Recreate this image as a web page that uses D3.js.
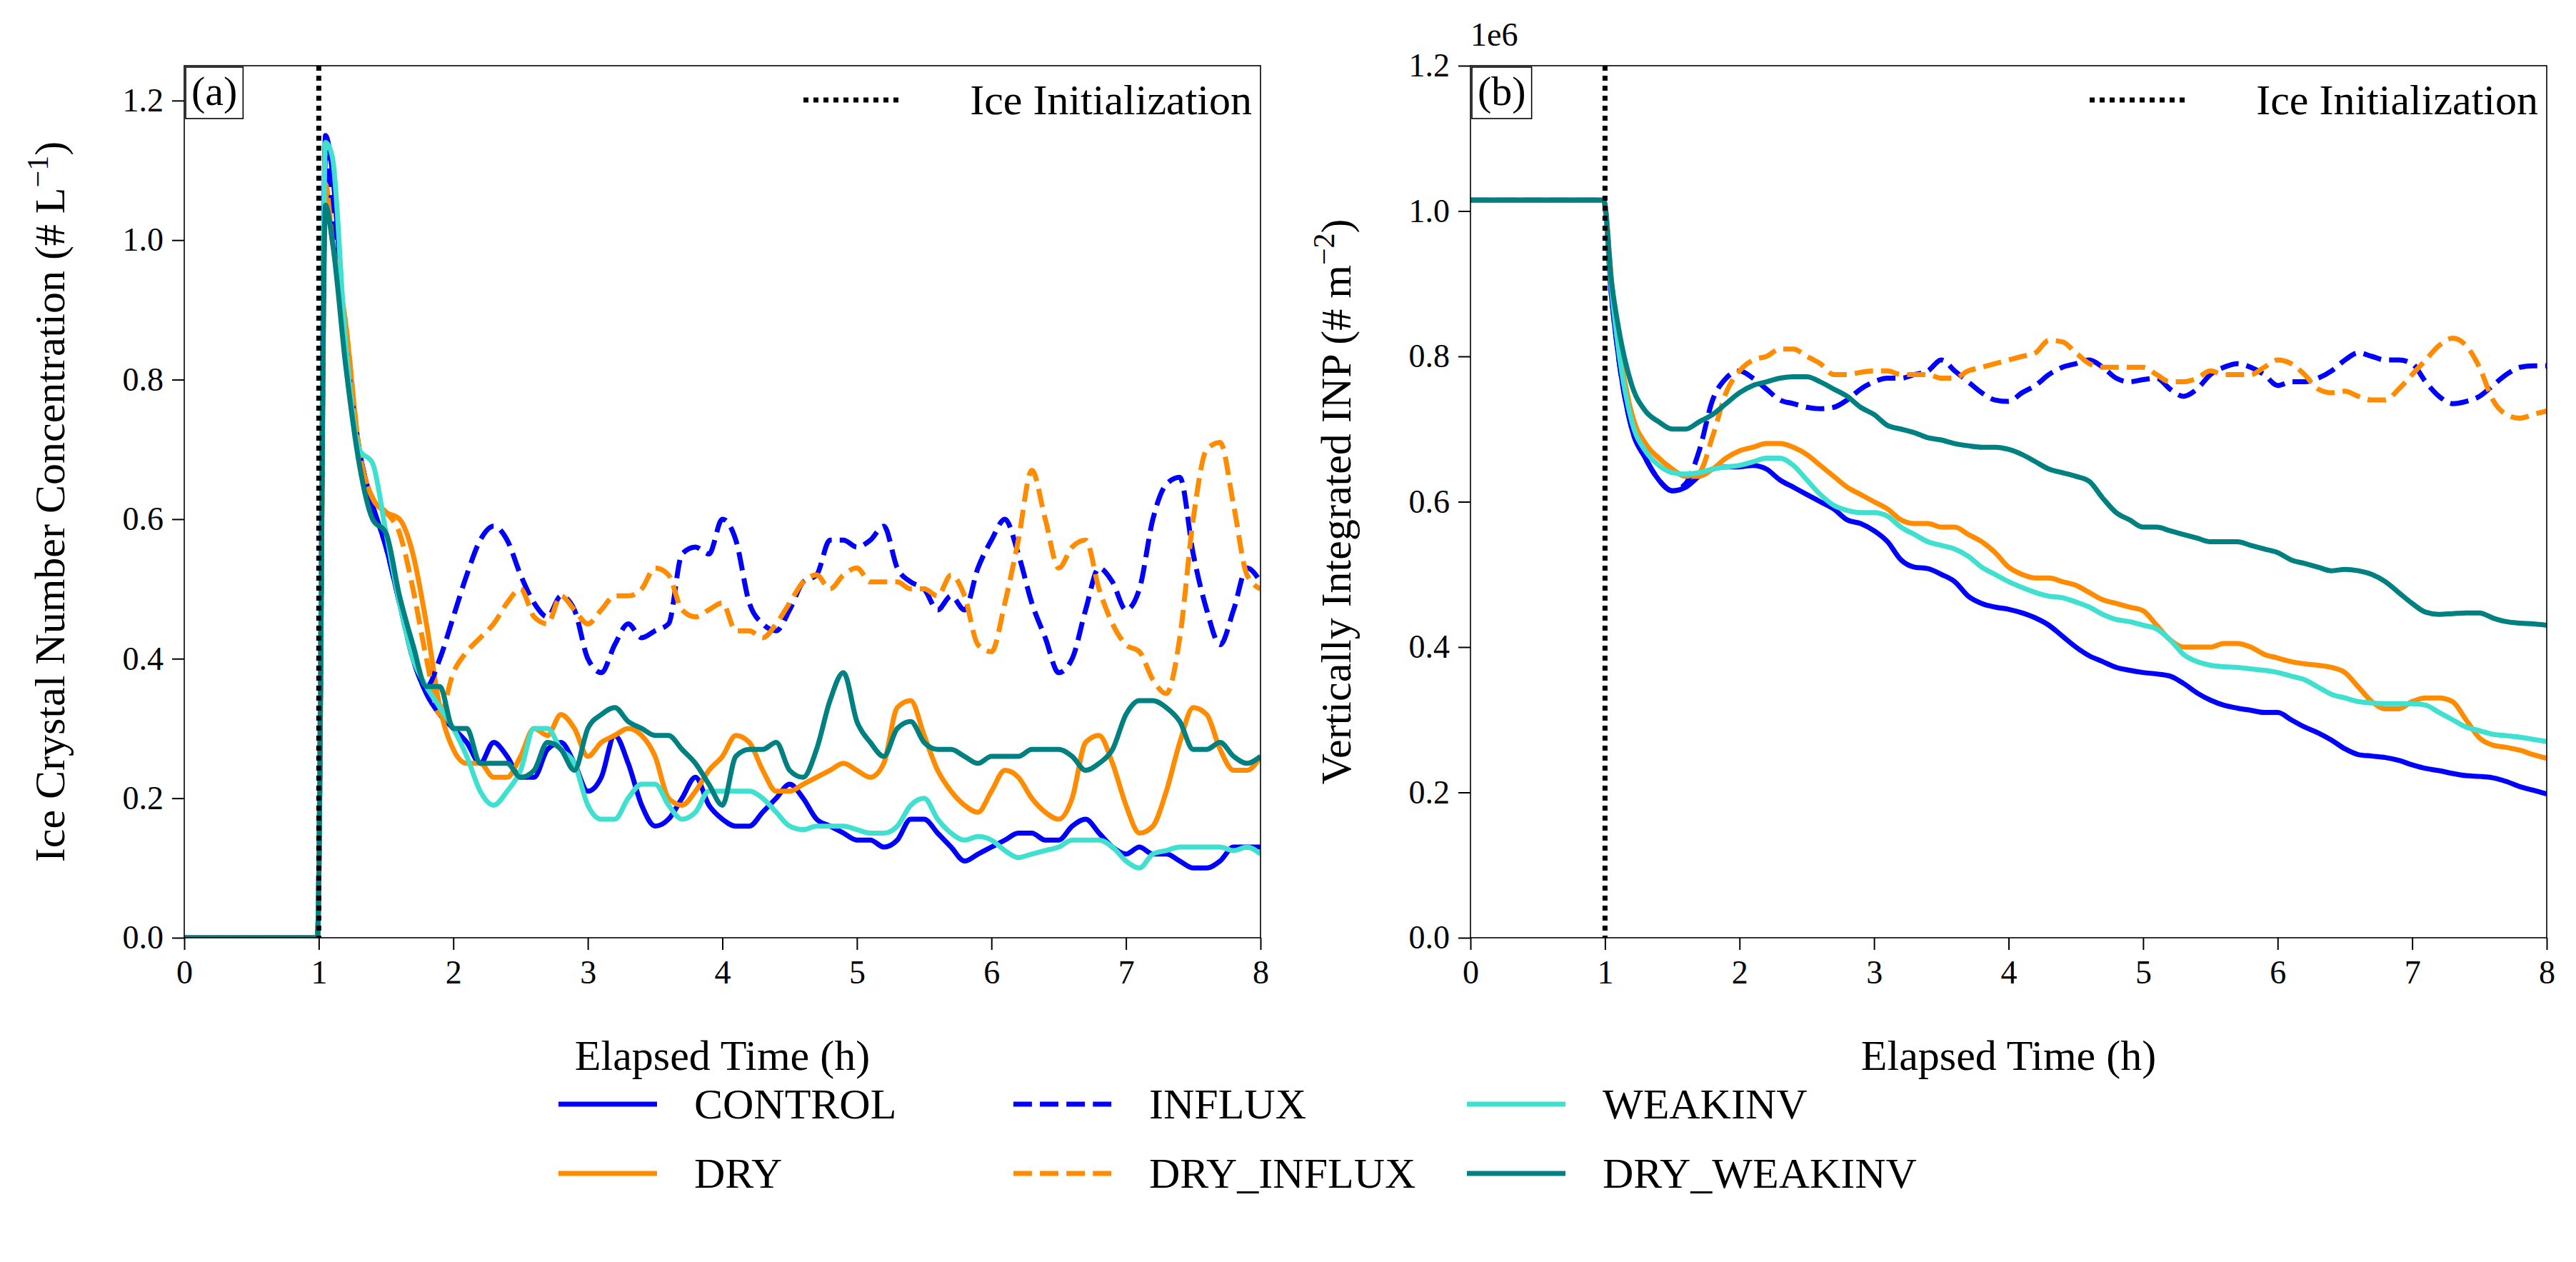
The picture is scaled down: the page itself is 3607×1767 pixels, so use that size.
<!DOCTYPE html>
<html>
<head>
<meta charset="utf-8">
<script src="https://cdn.jsdelivr.net/npm/d3@7"></script>
<style>
  body { margin: 0; background: #fff; }
  text { font-family: "Liberation Serif", "DejaVu Serif", serif; fill: #000; }
</style>
</head>
<body>
<div id="chart"></div>
<script>
// time axis (h): flat part, jump, then every 0.1 h
var times = [0, 0.99, 1.05].concat(d3.range(11, 81).map(function(k) { return k / 10; }));

var seriesNames = ["CONTROL", "DRY", "INFLUX", "DRY_INFLUX", "WEAKINV", "DRY_WEAKINV"];
var seriesColors = ["#0000ff", "#ff8c00", "#0000ff", "#ff8c00", "#40e0d0", "#008080"];
var seriesDashed = [false, false, true, true, false, false];

// panel (a) ice crystal number concentration (# L-1)
var iceControl = [0, 0, 1.15, 1.10, 0.85, 0.70, 0.62, 0.56, 0.48, 0.40, 0.35, 0.32,
  0.30, 0.28, 0.25, 0.28, 0.26, 0.23, 0.23, 0.27, 0.28, 0.25,
  0.21, 0.23, 0.29, 0.25, 0.19, 0.16, 0.17, 0.20, 0.23, 0.19,
  0.17, 0.16, 0.16, 0.18, 0.20, 0.22, 0.20, 0.17, 0.16, 0.15,
  0.14, 0.14, 0.13, 0.14, 0.17, 0.17, 0.15, 0.13, 0.11, 0.12,
  0.13, 0.14, 0.15, 0.15, 0.14, 0.14, 0.16, 0.17, 0.15, 0.13,
  0.12, 0.13, 0.12, 0.12, 0.11, 0.10, 0.10, 0.11, 0.13, 0.13, 0.13];
var iceDry = [0, 0, 1.08, 1.00, 0.88, 0.70, 0.63, 0.61, 0.60, 0.55, 0.45, 0.33,
  0.27, 0.25, 0.25, 0.23, 0.23, 0.26, 0.30, 0.29, 0.32, 0.30,
  0.26, 0.28, 0.29, 0.30, 0.29, 0.26, 0.20, 0.19, 0.21, 0.24,
  0.26, 0.29, 0.28, 0.24, 0.21, 0.21, 0.22, 0.23, 0.24, 0.25,
  0.24, 0.23, 0.25, 0.33, 0.34, 0.29, 0.24, 0.21, 0.19, 0.18,
  0.21, 0.24, 0.23, 0.20, 0.18, 0.17, 0.20, 0.28, 0.29, 0.25,
  0.19, 0.15, 0.16, 0.21, 0.28, 0.33, 0.32, 0.27, 0.24, 0.24, 0.26];
var iceInflux = [0, 0, 1.12, 1.05, 0.85, 0.70, 0.62, 0.56, 0.48, 0.40, 0.36, 0.40,
  0.46, 0.52, 0.57, 0.59, 0.57, 0.52, 0.48, 0.46, 0.49, 0.47,
  0.40, 0.38, 0.42, 0.45, 0.43, 0.44, 0.45, 0.55, 0.56, 0.55,
  0.60, 0.57, 0.48, 0.45, 0.44, 0.47, 0.51, 0.52, 0.57, 0.57,
  0.56, 0.57, 0.59, 0.53, 0.51, 0.50, 0.47, 0.49, 0.47, 0.53,
  0.57, 0.60, 0.55, 0.48, 0.43, 0.38, 0.40, 0.47, 0.53, 0.51,
  0.47, 0.50, 0.60, 0.65, 0.66, 0.55, 0.47, 0.42, 0.47, 0.53, 0.51];
var iceDryInflux = [0, 0, 1.08, 1.00, 0.88, 0.70, 0.63, 0.61, 0.58, 0.50, 0.40, 0.32,
  0.38, 0.41, 0.43, 0.45, 0.48, 0.50, 0.46, 0.45, 0.49, 0.47,
  0.45, 0.47, 0.49, 0.49, 0.50, 0.53, 0.52, 0.47, 0.46, 0.47,
  0.48, 0.44, 0.44, 0.43, 0.45, 0.48, 0.51, 0.52, 0.50, 0.52,
  0.53, 0.51, 0.51, 0.51, 0.50, 0.50, 0.49, 0.52, 0.49, 0.42,
  0.41, 0.48, 0.57, 0.67, 0.60, 0.53, 0.56, 0.57, 0.50, 0.45,
  0.42, 0.41, 0.37, 0.35, 0.43, 0.60, 0.70, 0.71, 0.62, 0.52, 0.50];
var iceWeakinv = [0, 0, 1.14, 1.12, 0.85, 0.70, 0.68, 0.58, 0.48, 0.40, 0.36, 0.33,
  0.30, 0.26, 0.21, 0.19, 0.21, 0.24, 0.30, 0.30, 0.27, 0.25,
  0.19, 0.17, 0.17, 0.20, 0.22, 0.22, 0.19, 0.17, 0.18, 0.21,
  0.21, 0.21, 0.21, 0.20, 0.18, 0.16, 0.155, 0.16, 0.16, 0.16,
  0.155, 0.15, 0.15, 0.16, 0.19, 0.20, 0.17, 0.15, 0.14, 0.145,
  0.14, 0.125, 0.115, 0.12, 0.125, 0.13, 0.14, 0.14, 0.14, 0.13,
  0.11, 0.10, 0.12, 0.125, 0.13, 0.13, 0.13, 0.13, 0.125, 0.13, 0.12];
var iceDryWeakinv = [0, 0, 1.05, 1.00, 0.82, 0.68, 0.60, 0.58, 0.49, 0.42, 0.36, 0.36,
  0.30, 0.30, 0.25, 0.25, 0.25, 0.23, 0.24, 0.28, 0.27, 0.24,
  0.30, 0.32, 0.33, 0.31, 0.30, 0.29, 0.29, 0.27, 0.25, 0.22,
  0.19, 0.26, 0.27, 0.27, 0.28, 0.24, 0.23, 0.27, 0.34, 0.38,
  0.31, 0.28, 0.26, 0.30, 0.31, 0.28, 0.27, 0.27, 0.26, 0.25,
  0.26, 0.26, 0.26, 0.27, 0.27, 0.27, 0.26, 0.24, 0.25, 0.27,
  0.32, 0.34, 0.34, 0.33, 0.31, 0.27, 0.27, 0.28, 0.26, 0.25, 0.26];

// panel (b) vertically integrated INP (1e6 # m-2)
var inpControl = [1.015, 1.015, 0.88, 0.80, 0.70, 0.66, 0.63, 0.615, 0.62, 0.635, 0.645, 0.648,
  0.648, 0.65, 0.645, 0.63, 0.62, 0.61, 0.60, 0.59, 0.575, 0.57,
  0.56, 0.545, 0.52, 0.51, 0.508, 0.50, 0.49, 0.47, 0.46, 0.455,
  0.452, 0.447, 0.44, 0.43, 0.415, 0.40, 0.388, 0.38, 0.372, 0.368,
  0.365, 0.363, 0.36, 0.35, 0.337, 0.327, 0.32, 0.316, 0.313, 0.31,
  0.31, 0.30, 0.29, 0.282, 0.272, 0.26, 0.252, 0.25, 0.248, 0.244,
  0.238, 0.233, 0.23, 0.226, 0.223, 0.222, 0.22, 0.215, 0.208, 0.203, 0.198];
var inpDry = [1.015, 1.015, 0.90, 0.82, 0.72, 0.68, 0.66, 0.645, 0.635, 0.635, 0.645, 0.66,
  0.67, 0.675, 0.68, 0.68, 0.675, 0.665, 0.65, 0.635, 0.62, 0.61,
  0.60, 0.59, 0.575, 0.57, 0.57, 0.565, 0.565, 0.555, 0.545, 0.53,
  0.51, 0.50, 0.495, 0.495, 0.49, 0.485, 0.475, 0.465, 0.46, 0.455,
  0.45, 0.43, 0.41, 0.40, 0.40, 0.40, 0.405, 0.405, 0.40, 0.39,
  0.385, 0.38, 0.377, 0.375, 0.372, 0.365, 0.345, 0.325, 0.315, 0.315,
  0.325, 0.33, 0.33, 0.325, 0.30, 0.275, 0.265, 0.262, 0.258, 0.252, 0.247];
var inpInflux = [1.015, 1.015, 0.88, 0.80, 0.70, 0.66, 0.63, 0.615, 0.625, 0.67, 0.74, 0.77,
  0.78, 0.77, 0.755, 0.74, 0.735, 0.73, 0.728, 0.73, 0.74, 0.755,
  0.765, 0.77, 0.77, 0.775, 0.78, 0.795, 0.78, 0.765, 0.75, 0.74,
  0.738, 0.75, 0.76, 0.775, 0.785, 0.79, 0.795, 0.785, 0.77, 0.765,
  0.768, 0.77, 0.755, 0.745, 0.755, 0.775, 0.785, 0.79, 0.785, 0.775,
  0.76, 0.765, 0.765, 0.77, 0.78, 0.795, 0.805, 0.80, 0.795, 0.795,
  0.79, 0.765, 0.745, 0.735, 0.738, 0.745, 0.76, 0.775, 0.785, 0.787, 0.787];
var inpDryInflux = [1.015, 1.015, 0.90, 0.82, 0.72, 0.68, 0.66, 0.645, 0.635, 0.64, 0.69, 0.75,
  0.78, 0.795, 0.80, 0.81, 0.81, 0.80, 0.79, 0.775, 0.775, 0.778,
  0.78, 0.78, 0.775, 0.775, 0.775, 0.77, 0.77, 0.78, 0.785, 0.79,
  0.795, 0.80, 0.805, 0.822, 0.82, 0.805, 0.79, 0.785, 0.785, 0.785,
  0.785, 0.775, 0.765, 0.765, 0.77, 0.78, 0.775, 0.775, 0.775, 0.785,
  0.795, 0.79, 0.775, 0.755, 0.75, 0.752, 0.745, 0.74, 0.74, 0.755,
  0.775, 0.795, 0.815, 0.825, 0.815, 0.785, 0.74, 0.72, 0.715, 0.72, 0.725];
var inpWeakinv = [1.015, 1.015, 0.89, 0.81, 0.71, 0.67, 0.65, 0.64, 0.638, 0.64, 0.645, 0.648,
  0.65, 0.655, 0.66, 0.66, 0.65, 0.63, 0.61, 0.595, 0.588, 0.585,
  0.585, 0.58, 0.565, 0.555, 0.545, 0.54, 0.535, 0.525, 0.51, 0.50,
  0.49, 0.482, 0.475, 0.47, 0.468, 0.462, 0.455, 0.445, 0.438, 0.435,
  0.43, 0.425, 0.41, 0.39, 0.38, 0.375, 0.373, 0.372, 0.37, 0.368,
  0.365, 0.36, 0.355, 0.345, 0.335, 0.33, 0.325, 0.323, 0.322, 0.322,
  0.322, 0.32, 0.31, 0.30, 0.29, 0.285, 0.28, 0.278, 0.276, 0.273, 0.27];
var inpDryWeakinv = [1.015, 1.015, 0.90, 0.84, 0.76, 0.725, 0.71, 0.70, 0.70, 0.71, 0.72, 0.735,
  0.75, 0.76, 0.765, 0.77, 0.772, 0.772, 0.765, 0.755, 0.745, 0.73,
  0.72, 0.705, 0.70, 0.695, 0.688, 0.685, 0.68, 0.677, 0.675, 0.675,
  0.672, 0.665, 0.655, 0.645, 0.64, 0.635, 0.628, 0.605, 0.585, 0.575,
  0.565, 0.565, 0.56, 0.555, 0.55, 0.545, 0.545, 0.545, 0.54, 0.535,
  0.53, 0.52, 0.515, 0.51, 0.505, 0.507, 0.505, 0.50, 0.49, 0.475,
  0.46, 0.448, 0.445, 0.446, 0.447, 0.447, 0.44, 0.435, 0.433, 0.432, 0.43];

var iceSeries = [iceControl, iceDry, iceInflux, iceDryInflux, iceWeakinv, iceDryWeakinv];
var inpSeries = [inpControl, inpDry, inpInflux, inpDryInflux, inpWeakinv, inpDryWeakinv];

var xTicks = [0, 1, 2, 3, 4, 5, 6, 7, 8];
var iceInitTime = 1;

var W = 3607, H = 1767;
var serif = "'Liberation Serif', 'DejaVu Serif', serif";
var svg = d3.select("#chart").append("svg").attr("width", W).attr("height", H)
  .attr("font-family", serif);

var lw = 7;
var dotted = "7,7";

function panel(left, right, yMax, series, label, yLabel, sup, showExp) {
  var top = 92, bottom = 1313;
  var x = d3.scaleLinear().domain([0, 8]).range([left, right]);
  var y = d3.scaleLinear().domain([0, yMax]).range([bottom, top]);
  var g = svg.append("g");

  var line = d3.line()
    .x(function(d) { return x(d[0]); })
    .y(function(d) { return y(d[1]); })
    .curve(d3.curveMonotoneX);

  var clipId = "clip" + label;
  svg.append("clipPath").attr("id", clipId).append("rect")
    .attr("x", left).attr("y", top).attr("width", right - left).attr("height", bottom - top);

  var lines = g.append("g").attr("clip-path", "url(#" + clipId + ")");
  series.forEach(function(vals, i) {
    lines.append("path")
      .datum(times.map(function(t, k) { return [t, vals[k]]; }))
      .attr("d", line)
      .attr("fill", "none")
      .attr("stroke", seriesColors[i])
      .attr("stroke-width", lw)
      .attr("stroke-dasharray", seriesDashed[i] ? (3.7 * lw) + "," + (1.6 * lw) : null)
      .attr("stroke-linejoin", "round");
  });

  // ice initialization line
  g.append("line")
    .attr("x1", x(iceInitTime)).attr("x2", x(iceInitTime))
    .attr("y1", top).attr("y2", bottom)
    .attr("stroke", "#000").attr("stroke-width", 7)
    .attr("stroke-dasharray", dotted);

  // frame
  g.append("rect")
    .attr("x", left).attr("y", top).attr("width", right - left).attr("height", bottom - top)
    .attr("fill", "none").attr("stroke", "#000").attr("stroke-width", 1.6);

  var xAxis = g.append("g").attr("transform", "translate(0," + bottom + ")")
    .call(d3.axisBottom(x).tickValues(xTicks).tickSize(17).tickPadding(14).tickFormat(d3.format("d")));
  var yAxis = g.append("g").attr("transform", "translate(" + left + ",0)")
    .call(d3.axisLeft(y).ticks(6).tickSize(17).tickPadding(12).tickFormat(d3.format(".1f")));
  [xAxis, yAxis].forEach(function(a) {
    a.attr("font-family", serif).attr("font-size", 46);
    a.select(".domain").remove();
    a.selectAll(".tick line").attr("stroke", "#000").attr("stroke-width", 2);
    a.selectAll(".tick text").attr("fill", "#000");
  });

  g.append("text")
    .attr("x", (left + right) / 2).attr("y", bottom + 185)
    .attr("text-anchor", "middle").style("font-size", "60px")
    .text("Elapsed Time (h)");

  var yl = g.append("text")
    .attr("transform", "translate(" + (left - 168) + "," + ((top + bottom) / 2) + ") rotate(-90)")
    .attr("text-anchor", "middle").style("font-size", "60px");
  yl.append("tspan").text(yLabel);
  yl.append("tspan").attr("baseline-shift", "super").style("font-size", "42px").text(sup);
  yl.append("tspan").text(")");

  if (showExp) {
    g.append("text").attr("x", left).attr("y", top - 28)
      .style("font-size", "46px").text("1e6");
  }

  // panel label box
  var lt = g.append("text").attr("x", left + 10).attr("y", top + 55)
    .style("font-size", "58px").text("(" + label + ")");
  var bb = lt.node().getBBox();
  g.append("rect").attr("x", left + 2).attr("y", top + 2)
    .attr("width", bb.width + 16).attr("height", 72)
    .attr("fill", "none").attr("stroke", "#000").attr("stroke-width", 1.6);

  // legend for vertical line
  g.append("line")
    .attr("x1", right - 640).attr("x2", right - 505)
    .attr("y1", top + 48).attr("y2", top + 48)
    .attr("stroke", "#000").attr("stroke-width", 7).attr("stroke-dasharray", dotted);
  g.append("text").attr("x", right - 12).attr("y", top + 68)
    .attr("text-anchor", "end").style("font-size", "60px").text("Ice Initialization");
}

panel(258, 1765, 1.25, iceSeries, "a", "Ice Crystal Number Concentration (# L", "\u22121", false);
panel(2059, 3566, 1.2, inpSeries, "b", "Vertically Integrated INP (# m", "\u22122", true);

// bottom legend
var legX = [782, 1419, 2054];
var legY = [1546, 1643];
seriesNames.forEach(function(name, i) {
  var col = Math.floor(i / 2), row = i % 2;
  var lg = svg.append("g");
  lg.append("line")
    .attr("x1", legX[col]).attr("x2", legX[col] + 138)
    .attr("y1", legY[row]).attr("y2", legY[row])
    .attr("stroke", seriesColors[i]).attr("stroke-width", lw)
    .attr("stroke-dasharray", seriesDashed[i] ? (3.7 * lw) + "," + (1.6 * lw) : null);
  lg.append("text").attr("x", legX[col] + 190).attr("y", legY[row] + 20)
    .style("font-size", "60px").text(name);
});
</script>
</body>
</html>
